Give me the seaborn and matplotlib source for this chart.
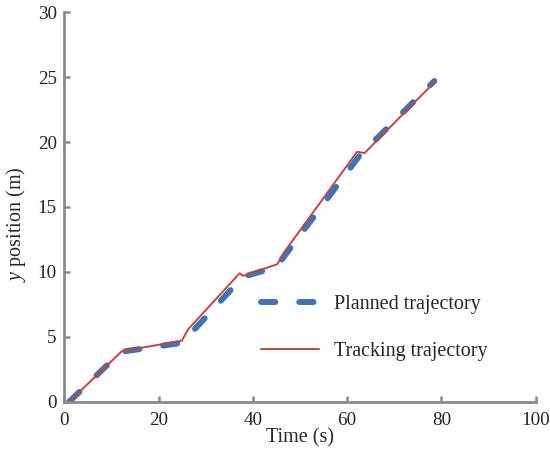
import matplotlib
matplotlib.use("Agg")
import matplotlib.pyplot as plt
import seaborn as sns
import pandas as pd

# Planned trajectory vertices (time s, y position m)
planned_t = [1.0, 12.0, 25.0, 37.8, 45.0, 62.5, 78.5]
planned_y = [0.0, 3.85, 4.55, 9.6, 10.4, 18.9, 24.7]

# Tracking trajectory vertices
track_t = [1.0, 12.2, 24.9, 26.3, 37.2, 37.9, 45.2, 46.4, 62.1, 63.7, 78.5]
track_y = [0.0, 3.9, 4.7, 5.6, 9.9, 9.7, 10.6, 11.4, 19.25, 19.15, 24.6]

x_ticks = [0, 20, 40, 60, 80, 100]
y_ticks = [0, 5, 10, 15, 20, 25, 30]

sns.set_theme(style="ticks")
plt.rcParams["font.family"] = ["Liberation Serif", "DejaVu Serif"]
plt.rcParams["mathtext.fontset"] = "custom"
plt.rcParams["mathtext.it"] = "Liberation Serif:italic"
plt.rcParams["mathtext.rm"] = "Liberation Serif"

FS = 14.5
TFS = 13.8

fig, ax = plt.subplots(figsize=(5.5, 4.49), dpi=100)
fig.subplots_adjust(left=0.117, right=0.974, bottom=0.105, top=0.973)

df_p = pd.DataFrame({"t": planned_t, "y": planned_y})
df_t = pd.DataFrame({"t": track_t, "y": track_y})

sns.lineplot(data=df_p, x="t", y="y", ax=ax, color="#3d74b6", lw=4.3,
             label="Planned trajectory", sort=False, estimator=None)
pl = ax.lines[-1]
pl.set_dashes([2.4, 4.0])
pl.set_dash_capstyle("round")
pl.set_solid_capstyle("round")
sns.lineplot(data=df_t, x="t", y="y", ax=ax, color="#c8413f", lw=1.4,
             label="Tracking trajectory", sort=False, estimator=None)

ax.set_xlim(0, 100)
ax.set_ylim(0, 30)
ax.set_xticks(x_ticks)
ax.set_yticks(y_ticks)
ax.tick_params(direction="in", length=4, width=1.8, color="#8a8a8a",
               labelsize=TFS)
ax.tick_params(axis="x", pad=7)
ax.tick_params(axis="y", pad=5.5)
for s in ["left", "bottom"]:
    ax.spines[s].set_color("#8a8a8a")
    ax.spines[s].set_linewidth(2)
sns.despine(ax=ax)

ax.set_xlabel("Time (s)", fontsize=FS, labelpad=0)
ax.set_ylabel(r"$y$ position (m)", fontsize=FS)
ax.yaxis.set_label_coords(-0.077, 0.456)

leg = ax.legend(loc="center left", bbox_to_anchor=(0.378, 0.19), frameon=False,
                fontsize=FS, handlelength=2.9, labelspacing=1.4,
                handletextpad=0.75)
leg.get_lines()[0].set_dashes([2.4, 4.0])
leg.get_lines()[0].set_dash_capstyle("round")

fig.savefig("out.png", dpi=100)
